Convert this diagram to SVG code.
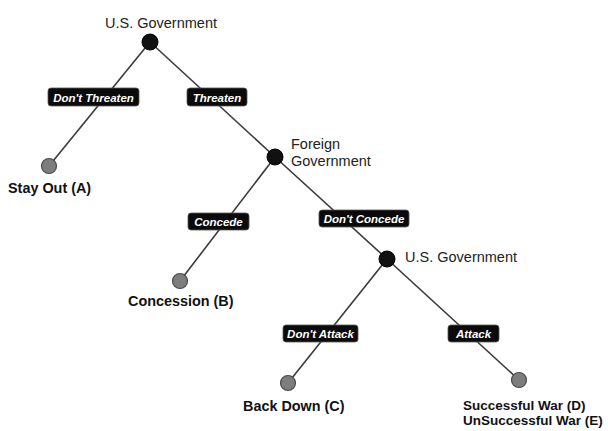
<svg xmlns="http://www.w3.org/2000/svg" width="608" height="431" viewBox="0 0 608 431">
<style>
.edge{stroke:#3a3a3a;stroke-width:1.6;fill:none}
.dec{fill:#111;stroke:#000;stroke-width:1}
.out{fill:#7d7d7d;stroke:#4a4a4a;stroke-width:1.2}
.lbox{fill:#0a0a0a;stroke:#555;stroke-width:0.8}
.ltxt{font-family:"Liberation Sans",Arial,sans-serif;font-size:11.5px;font-weight:bold;font-style:italic;fill:#fff;text-anchor:middle}
.ntxt{font-family:"Liberation Sans",Arial,sans-serif;font-size:14.5px;fill:#222}
.otxt{font-family:"Liberation Sans",Arial,sans-serif;font-size:14.4px;font-weight:bold;fill:#111}
.wtxt{font-family:"Liberation Sans",Arial,sans-serif;font-size:13.5px;font-weight:bold;fill:#111}
</style>
<rect width="608" height="431" fill="#fff"/>
<g id="connectors">
<line class="edge" x1="150" y1="42" x2="49" y2="166"/>
<line class="edge" x1="150" y1="42" x2="275" y2="157"/>
<line class="edge" x1="275" y1="157" x2="180" y2="281"/>
<line class="edge" x1="275" y1="157" x2="387" y2="259"/>
<line class="edge" x1="387" y1="259" x2="288" y2="383"/>
<line class="edge" x1="387" y1="259" x2="519" y2="380"/>
<g id="lbl-dont-threaten"><rect class="lbox" x="48" y="88" width="91" height="18" rx="3"/><text class="ltxt" x="93.5" y="101.5">Don't Threaten</text></g>
<g id="lbl-threaten"><rect class="lbox" x="187" y="88" width="60" height="18" rx="3"/><text class="ltxt" x="217" y="101.5">Threaten</text></g>
<g id="lbl-concede"><rect class="lbox" x="188" y="213" width="61" height="17" rx="3"/><text class="ltxt" x="218.5" y="225.5">Concede</text></g>
<g id="lbl-dont-concede"><rect class="lbox" x="319" y="210" width="90" height="17" rx="3"/><text class="ltxt" x="364" y="222.5">Don't Concede</text></g>
<g id="lbl-dont-attack"><rect class="lbox" x="283" y="325" width="75" height="17" rx="3"/><text class="ltxt" x="320.5" y="337.5">Don't Attack</text></g>
<g id="lbl-attack"><rect class="lbox" x="448" y="325" width="51" height="17" rx="3"/><text class="ltxt" x="473.5" y="337.5">Attack</text></g>
</g>
<g id="n-usgov1"><circle class="dec" cx="150" cy="42" r="8"/><text class="ntxt" x="161" y="28" text-anchor="middle">U.S. Government</text></g>
<g id="n-stayout"><circle class="out" cx="49" cy="166" r="7.5"/><text class="otxt" x="8" y="193">Stay Out (A)</text></g>
<g id="n-foreign"><circle class="dec" cx="275" cy="157" r="8"/><text class="ntxt" x="291" y="149">Foreign</text><text class="ntxt" x="291" y="166">Government</text></g>
<g id="n-concession"><circle class="out" cx="180" cy="281" r="7.5"/><text class="otxt" x="128" y="306">Concession (B)</text></g>
<g id="n-usgov2"><circle class="dec" cx="387" cy="259" r="8"/><text class="ntxt" x="405" y="262">U.S. Government</text></g>
<g id="n-backdown"><circle class="out" cx="288" cy="383" r="7.5"/><text class="otxt" x="243" y="411">Back Down (C)</text></g>
<g id="n-war"><circle class="out" cx="519" cy="380" r="7.5"/><text class="wtxt" x="463" y="410">Successful War (D)</text><text class="wtxt" x="463" y="425">UnSuccessful War (E)</text></g>
</svg>
